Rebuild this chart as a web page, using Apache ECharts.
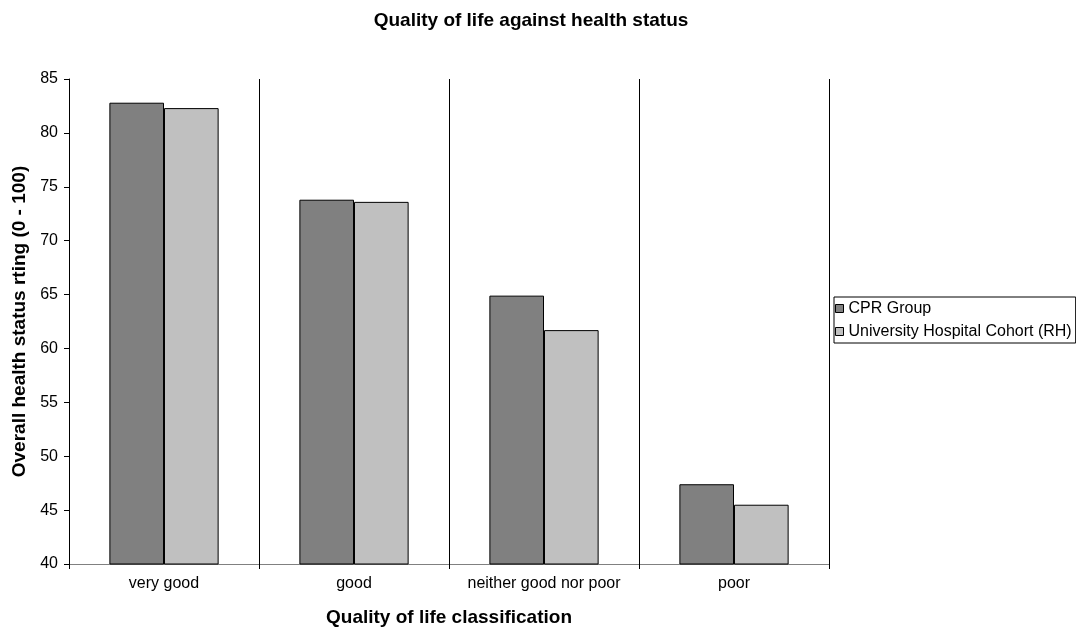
<!DOCTYPE html>
<html>
<head>
<meta charset="utf-8">
<script src="https://cdn.jsdelivr.net/npm/echarts@6/dist/echarts.min.js"></script>
<style>
  html, body { margin: 0; padding: 0; background: #fff; }
  #chart { width: 1076px; height: 629px; }
</style>
</head>
<body>
<div id="chart"></div>
<script>
// Quality of life classes and mean health status ratings per group
const categories = ['very good', 'good', 'neither good nor poor', 'poor'];
const cprGroup = [82.8, 73.8, 64.9, 47.4];
const universityCohort = [82.3, 73.6, 61.7, 45.5];
const seriesNames = ['CPR Group', 'University Hospital Cohort (RH)'];

const FONT = '"Liberation Sans", Arial, sans-serif';

const chart = echarts.init(document.getElementById('chart'), null, { renderer: 'canvas' });

chart.setOption({
  backgroundColor: '#ffffff',
  animation: false,
  title: {
    text: 'Quality of life against health status',
    left: 531,
    textAlign: 'center',
    top: 11,
    padding: 0,
    textStyle: { fontFamily: FONT, fontSize: 19, fontWeight: 'bold', color: '#000' }
  },
  legend: {
    orient: 'vertical',
    left: 834,
    top: 297,
    padding: [3, 4, 3, 1],
    borderColor: '#000',
    borderWidth: 1,
    itemWidth: 8,
    itemHeight: 8,
    itemGap: 6,
    icon: 'rect',
    textStyle: { fontFamily: FONT, fontSize: 16, color: '#000', lineHeight: 17, padding: [0, 0, 0, 0] },
    data: [
      { name: seriesNames[0], itemStyle: { color: '#808080', borderColor: '#000', borderWidth: 1 } },
      { name: seriesNames[1], itemStyle: { color: '#c0c0c0', borderColor: '#000', borderWidth: 1 } }
    ]
  },
  grid: { left: 69, right: 247, top: 79, bottom: 65, containLabel: false, outerBoundsMode: 'none' },
  xAxis: {
    type: 'category',
    data: categories,
    name: 'Quality of life classification',
    nameLocation: 'middle',
    nameGap: 44,
    nameTextStyle: { fontFamily: FONT, fontSize: 19, fontWeight: 'bold', color: '#000' },
    axisLine: { lineStyle: { color: '#808080', width: 1 } },
    axisTick: { show: true, length: 5, inside: false, lineStyle: { color: '#000' } },
    axisLabel: { fontFamily: FONT, fontSize: 16, color: '#000', margin: 12, interval: 0 },
    splitLine: { show: true, interval: 0, lineStyle: { color: '#000', width: 1 } }
  },
  yAxis: {
    type: 'value',
    min: 40,
    max: 85,
    interval: 5,
    name: 'Overall health status rting (0 - 100)',
    nameLocation: 'middle',
    nameGap: 39,
    nameTextStyle: { fontFamily: FONT, fontSize: 19, fontWeight: 'bold', color: '#000' },
    axisLine: { show: true, lineStyle: { color: '#000', width: 1 } },
    axisTick: { show: true, length: 5, inside: false, lineStyle: { color: '#000' } },
    axisLabel: { fontFamily: FONT, fontSize: 16, color: '#000', margin: 11 },
    splitLine: { show: false }
  },
  series: [
    {
      name: seriesNames[0],
      type: 'bar',
      data: cprGroup,
      barGap: '0%',
      barCategoryGap: '42.5%',
      itemStyle: { color: '#808080', borderColor: '#000', borderWidth: 1 }
    },
    {
      name: seriesNames[1],
      type: 'bar',
      data: universityCohort,
      itemStyle: { color: '#c0c0c0', borderColor: '#000', borderWidth: 1 }
    }
  ]
});
</script>
</body>
</html>
